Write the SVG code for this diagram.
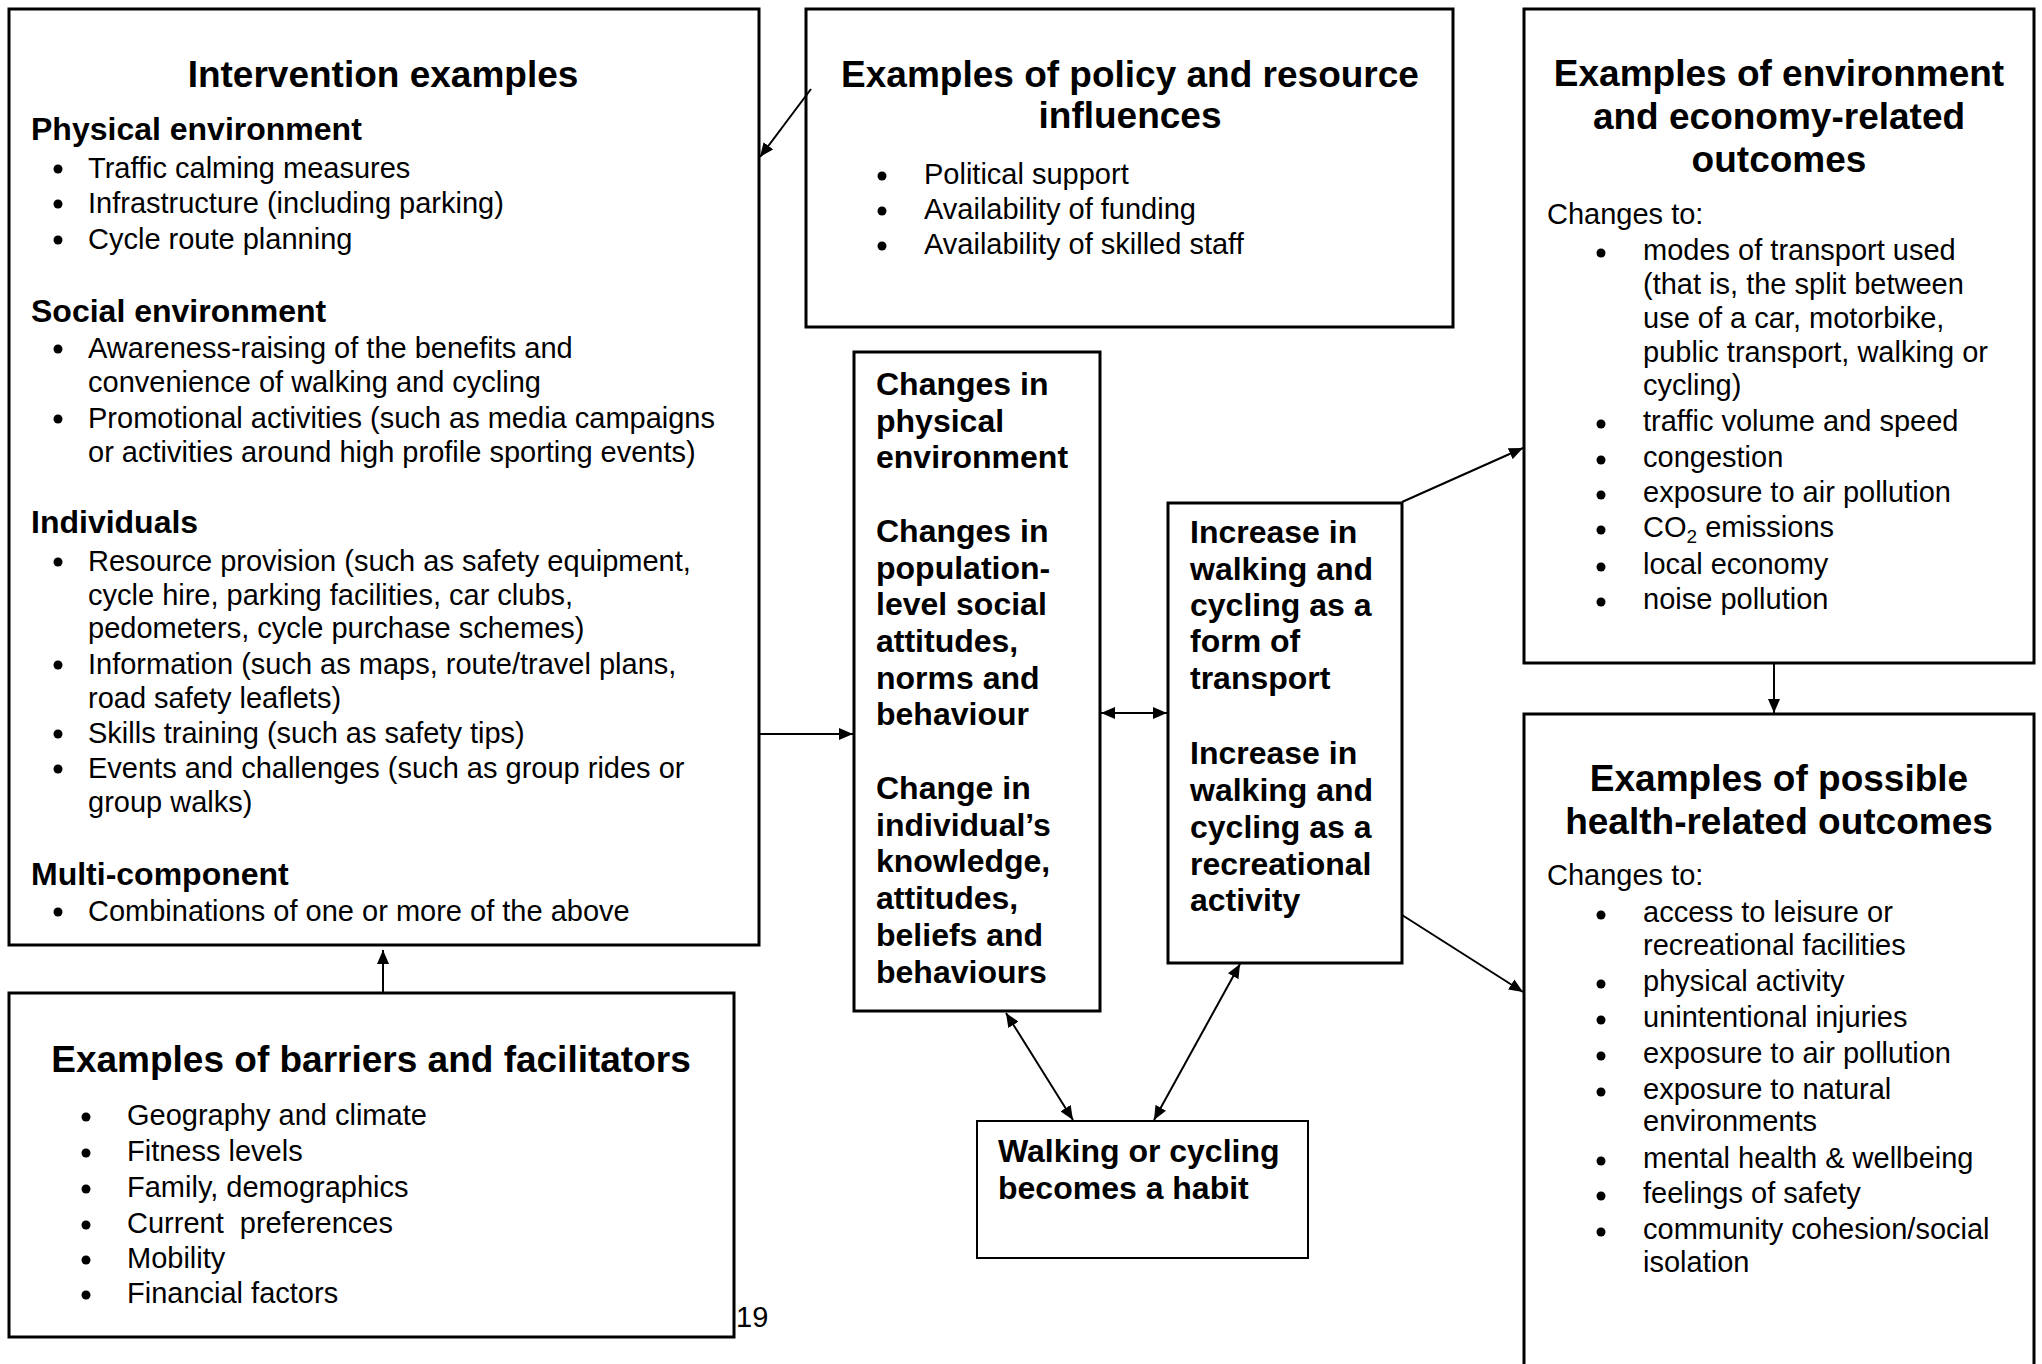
<svg xmlns="http://www.w3.org/2000/svg" width="2042" height="1364" viewBox="0 0 2042 1364">
  <style>
    .box { fill: #fff; stroke: #000; stroke-width: 3; }
    .box.thin { stroke-width: 2; }
    text { font-family: "Liberation Sans", Arial, sans-serif; fill: #000; }
    .title { font-size: 37px; font-weight: bold; text-anchor: middle; }
    .head { font-size: 32px; font-weight: bold; }
    .body { font-size: 29px; }
    .dot { fill: #000; }
    #connectors line { stroke: #000; stroke-width: 2; fill: none; }
  </style>
  <defs>
    <marker id="arrow" markerUnits="userSpaceOnUse" markerWidth="14" markerHeight="12" refX="14" refY="6" orient="auto-start-reverse">
      <path d="M0,0 L14,6 L0,12 Z" fill="#000"/>
    </marker>
  </defs>

  <rect width="2042" height="1364" fill="#fff"/>

  <!-- Intervention examples -->
  <g id="intervention">
    <rect class="box" x="9" y="9" width="750" height="936"/>
    <text class="title" x="383" y="87">Intervention examples</text>
    <text class="head" x="31" y="140">Physical environment</text>
    <circle class="dot" cx="58" cy="169" r="4.5"/><text class="body" x="88" y="178">Traffic calming measures</text>
    <circle class="dot" cx="58" cy="204" r="4.5"/><text class="body" x="88" y="213">Infrastructure (including parking)</text>
    <circle class="dot" cx="58" cy="240" r="4.5"/><text class="body" x="88" y="249">Cycle route planning</text>
    <text class="head" x="31" y="322">Social environment</text>
    <circle class="dot" cx="58" cy="349" r="4.5"/><text class="body" x="88" y="358">Awareness-raising of the benefits and</text>
    <text class="body" x="88" y="392">convenience of walking and cycling</text>
    <circle class="dot" cx="58" cy="419" r="4.5"/><text class="body" x="88" y="428">Promotional activities (such as media campaigns</text>
    <text class="body" x="88" y="462">or activities around high profile sporting events)</text>
    <text class="head" x="31" y="533">Individuals</text>
    <circle class="dot" cx="58" cy="562" r="4.5"/><text class="body" x="88" y="571">Resource provision (such as safety equipment,</text>
    <text class="body" x="88" y="605">cycle hire, parking facilities, car clubs,</text>
    <text class="body" x="88" y="638">pedometers, cycle purchase schemes)</text>
    <circle class="dot" cx="58" cy="665" r="4.5"/><text class="body" x="88" y="674">Information (such as maps, route/travel plans,</text>
    <text class="body" x="88" y="708">road safety leaflets)</text>
    <circle class="dot" cx="58" cy="734" r="4.5"/><text class="body" x="88" y="743">Skills training (such as safety tips)</text>
    <circle class="dot" cx="58" cy="769" r="4.5"/><text class="body" x="88" y="778">Events and challenges (such as group rides or</text>
    <text class="body" x="88" y="812">group walks)</text>
    <text class="head" x="31" y="885">Multi-component</text>
    <circle class="dot" cx="58" cy="912" r="4.5"/><text class="body" x="88" y="921">Combinations of one or more of the above</text>
  </g>

  <!-- Barriers and facilitators -->
  <g id="barriers">
    <rect class="box" x="9" y="993" width="725" height="344"/>
    <text class="title" x="371" y="1072">Examples of barriers and facilitators</text>
    <circle class="dot" cx="86" cy="1117" r="4.5"/><text class="body" x="127" y="1125">Geography and climate</text>
    <circle class="dot" cx="86" cy="1153" r="4.5"/><text class="body" x="127" y="1161">Fitness levels</text>
    <circle class="dot" cx="86" cy="1189" r="4.5"/><text class="body" x="127" y="1197">Family, demographics</text>
    <circle class="dot" cx="86" cy="1225" r="4.5"/><text class="body" x="127" y="1233" xml:space="preserve">Current  preferences</text>
    <circle class="dot" cx="86" cy="1260" r="4.5"/><text class="body" x="127" y="1268">Mobility</text>
    <circle class="dot" cx="86" cy="1295" r="4.5"/><text class="body" x="127" y="1303">Financial factors</text>
  </g>

  <!-- Policy and resource influences -->
  <g id="policy">
    <rect class="box" x="806" y="9" width="647" height="318"/>
    <text class="title" x="1130" y="87">Examples of policy and resource</text>
    <text class="title" x="1130" y="128">influences</text>
    <circle class="dot" cx="882" cy="176" r="4.5"/><text class="body" x="924" y="184">Political support</text>
    <circle class="dot" cx="882" cy="211" r="4.5"/><text class="body" x="924" y="219">Availability of funding</text>
    <circle class="dot" cx="882" cy="246" r="4.5"/><text class="body" x="924" y="254">Availability of skilled staff</text>
  </g>

  <!-- Intermediate changes -->
  <g id="changes">
    <rect class="box" x="854" y="352" width="246" height="659"/>
    <text class="head" x="876" y="395">Changes in</text>
    <text class="head" x="876" y="432">physical</text>
    <text class="head" x="876" y="468">environment</text>
    <text class="head" x="876" y="542">Changes in</text>
    <text class="head" x="876" y="579">population-</text>
    <text class="head" x="876" y="615">level social</text>
    <text class="head" x="876" y="652">attitudes,</text>
    <text class="head" x="876" y="689">norms and</text>
    <text class="head" x="876" y="725">behaviour</text>
    <text class="head" x="876" y="799">Change in</text>
    <text class="head" x="876" y="836">individual’s</text>
    <text class="head" x="876" y="872">knowledge,</text>
    <text class="head" x="876" y="909">attitudes,</text>
    <text class="head" x="876" y="946">beliefs and</text>
    <text class="head" x="876" y="983">behaviours</text>
  </g>

  <!-- Increase in walking and cycling -->
  <g id="increase">
    <rect class="box" x="1168" y="503" width="234" height="460"/>
    <text class="head" x="1190" y="543">Increase in</text>
    <text class="head" x="1190" y="580">walking and</text>
    <text class="head" x="1190" y="616">cycling as a</text>
    <text class="head" x="1190" y="652">form of</text>
    <text class="head" x="1190" y="689">transport</text>
    <text class="head" x="1190" y="764">Increase in</text>
    <text class="head" x="1190" y="801">walking and</text>
    <text class="head" x="1190" y="838">cycling as a</text>
    <text class="head" x="1190" y="875">recreational</text>
    <text class="head" x="1190" y="911">activity</text>
  </g>

  <!-- Habit -->
  <g id="habit">
    <rect class="box thin" x="977" y="1121" width="331" height="137"/>
    <text class="head" x="998" y="1162">Walking or cycling</text>
    <text class="head" x="998" y="1199">becomes a habit</text>
  </g>

  <!-- Environment and economy outcomes -->
  <g id="env-outcomes">
    <rect class="box" x="1524" y="9" width="510" height="654"/>
    <text class="title" x="1779" y="86">Examples of environment</text>
    <text class="title" x="1779" y="129">and economy-related</text>
    <text class="title" x="1779" y="172">outcomes</text>
    <text class="body" x="1547" y="224">Changes to:</text>
    <circle class="dot" cx="1601" cy="253" r="4.5"/><text class="body" x="1643" y="260">modes of transport used</text>
    <text class="body" x="1643" y="294">(that is, the split between</text>
    <text class="body" x="1643" y="328">use of a car, motorbike,</text>
    <text class="body" x="1643" y="362">public transport, walking or</text>
    <text class="body" x="1643" y="395">cycling)</text>
    <circle class="dot" cx="1601" cy="424" r="4.5"/><text class="body" x="1643" y="431">traffic volume and speed</text>
    <circle class="dot" cx="1601" cy="460" r="4.5"/><text class="body" x="1643" y="467">congestion</text>
    <circle class="dot" cx="1601" cy="495" r="4.5"/><text class="body" x="1643" y="502">exposure to air pollution</text>
    <circle class="dot" cx="1601" cy="530" r="4.5"/><text class="body" x="1643" y="537">CO<tspan font-size="19" dy="6">2</tspan><tspan dy="-6"> emissions</tspan></text>
    <circle class="dot" cx="1601" cy="567" r="4.5"/><text class="body" x="1643" y="574">local economy</text>
    <circle class="dot" cx="1601" cy="602" r="4.5"/><text class="body" x="1643" y="609">noise pollution</text>
  </g>

  <!-- Health-related outcomes -->
  <g id="health-outcomes">
    <rect class="box" x="1524" y="714" width="510" height="670"/>
    <text class="title" x="1779" y="791">Examples of possible</text>
    <text class="title" x="1779" y="834">health-related outcomes</text>
    <text class="body" x="1547" y="885">Changes to:</text>
    <circle class="dot" cx="1601" cy="915" r="4.5"/><text class="body" x="1643" y="922">access to leisure or</text>
    <text class="body" x="1643" y="955">recreational facilities</text>
    <circle class="dot" cx="1601" cy="984" r="4.5"/><text class="body" x="1643" y="991">physical activity</text>
    <circle class="dot" cx="1601" cy="1020" r="4.5"/><text class="body" x="1643" y="1027">unintentional injuries</text>
    <circle class="dot" cx="1601" cy="1056" r="4.5"/><text class="body" x="1643" y="1063">exposure to air pollution</text>
    <circle class="dot" cx="1601" cy="1092" r="4.5"/><text class="body" x="1643" y="1099">exposure to natural</text>
    <text class="body" x="1643" y="1131">environments</text>
    <circle class="dot" cx="1601" cy="1161" r="4.5"/><text class="body" x="1643" y="1168">mental health &amp; wellbeing</text>
    <circle class="dot" cx="1601" cy="1196" r="4.5"/><text class="body" x="1643" y="1203">feelings of safety</text>
    <circle class="dot" cx="1601" cy="1232" r="4.5"/><text class="body" x="1643" y="1239">community cohesion/social</text>
    <text class="body" x="1643" y="1272">isolation</text>
  </g>

  <!-- Page number -->
  <text class="body" x="736" y="1327">19</text>

  <!-- Connectors -->
  <g id="connectors">
    <line x1="811" y1="89" x2="760" y2="157" marker-end="url(#arrow)"/>
    <line x1="759" y1="734" x2="853" y2="734" marker-end="url(#arrow)"/>
    <line x1="383" y1="992" x2="383" y2="950" marker-end="url(#arrow)"/>
    <line x1="1101" y1="713" x2="1167" y2="713" marker-start="url(#arrow)" marker-end="url(#arrow)"/>
    <line x1="1402" y1="502" x2="1523" y2="448" marker-end="url(#arrow)"/>
    <line x1="1402" y1="915" x2="1523" y2="992" marker-end="url(#arrow)"/>
    <line x1="1774" y1="663" x2="1774" y2="713" marker-end="url(#arrow)"/>
    <line x1="1006" y1="1013" x2="1073" y2="1120" marker-start="url(#arrow)" marker-end="url(#arrow)"/>
    <line x1="1240" y1="964" x2="1154" y2="1120" marker-start="url(#arrow)" marker-end="url(#arrow)"/>
  </g>
</svg>
